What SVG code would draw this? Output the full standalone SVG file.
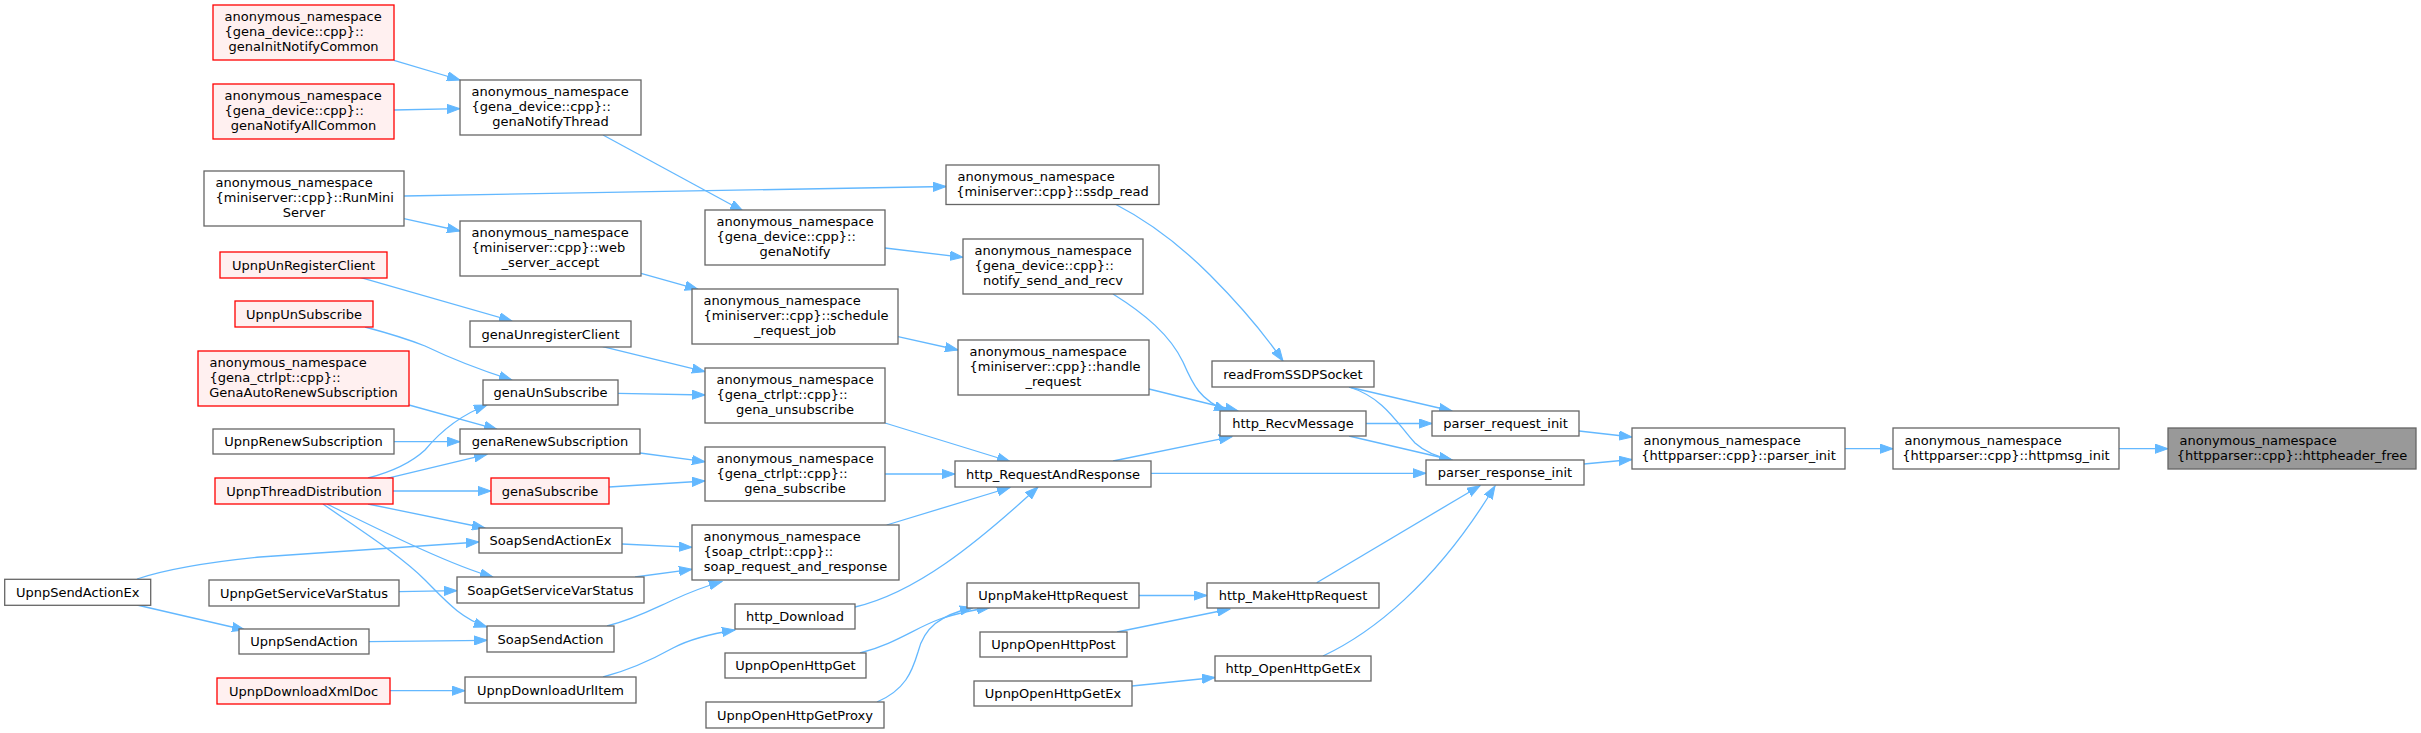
<svg xmlns="http://www.w3.org/2000/svg" width="2421" height="733" viewBox="0 0 2421 733">
<style>
rect{fill:#fff;stroke:#666;stroke-width:1.3}
.r rect{fill:#fff0f0;stroke:#f00}
.g rect{fill:#999}
text{font-family:"DejaVu Sans",sans-serif;font-size:13px;fill:#000}
.c{text-anchor:middle}
#edges path{fill:none;stroke:#63b8ff;stroke-width:1.3;marker-end:url(#ah)}
</style>
<defs>
<marker id="ah" markerUnits="userSpaceOnUse" viewBox="0 -5 14 10" markerWidth="14" markerHeight="10" refX="13" refY="0" orient="auto">
<path d="M0,-4.6 L13,0 L0,4.6 z" fill="#63b8ff" stroke="#63b8ff" stroke-width="1"/>
</marker>
</defs>
<rect x="0" y="0" width="2421" height="733" style="fill:#fff;stroke:none"/>
<g id="edges">
<path d="M2119,448.7 L2168,448.7"/>
<path d="M1845,448.7 L1893,448.7"/>
<path d="M1579,431 L1632,437"/>
<path d="M1584,464 L1632,459.5"/>
<path d="M1349,387 L1452,411"/>
<path d="M1349,387 C1385,398 1398,425 1415,443 C1425,452 1438,457 1452,460"/>
<path d="M1366,423.5 L1432,423.5"/>
<path d="M1349,436 L1452,460"/>
<path d="M1151,473.3 L1426,473.3"/>
<path d="M1113,461 L1232,436.7"/>
<path d="M1316.7,582.7 L1480,485.7"/>
<path d="M1323,656 C1370,634 1435,585 1495,486"/>
<path d="M1139,595.5 L1207,595.5"/>
<path d="M1117,632 L1230,609"/>
<path d="M1132,686 L1215,677.5"/>
<path d="M860,653 C895,644 915,628 940,619 C955,614 972,610 990,607.5"/>
<path d="M877,702 C905,690 912,672 918,652 C924,628 940,615 973,607.5"/>
<path d="M855,607 C915,593 975,545 1038,487"/>
<path d="M886.7,525 L1010,487.5"/>
<path d="M885,474 L955,474"/>
<path d="M885,423 L1010,461.5"/>
<path d="M1115,204 C1150,222 1180,245 1210,275 C1240,305 1265,335 1283,361"/>
<path d="M1113,294 C1145,314 1170,335 1183,362 C1193,385 1200,400 1227,411"/>
<path d="M1149,389 L1238,411"/>
<path d="M404,196 L946,186.5"/>
<path d="M404,218.7 L460,231"/>
<path d="M603,135 L743,211"/>
<path d="M394,60.3 L460,80"/>
<path d="M394,110 L460,108.7"/>
<path d="M885,248 L963,257.3"/>
<path d="M641,273.3 L698,289.3"/>
<path d="M898,336.7 L958,350"/>
<path d="M360,277.3 C400,289 450,303 512,321"/>
<path d="M602.7,346.7 L705,371.7"/>
<path d="M365,327 C395,335 410,340 425,346 C450,358 480,370 512,380"/>
<path d="M618,393.3 L705,395"/>
<path d="M409,405 L497,429.3"/>
<path d="M394,441.7 L460,441.7"/>
<path d="M368,478 C395,471 412,462 425,450 C440,432 458,416 487,405"/>
<path d="M387,478.3 L487,454.3"/>
<path d="M393,491 L491,491"/>
<path d="M368,504 L485,528"/>
<path d="M327,504 C380,530 450,565 493,577"/>
<path d="M323,504 C360,530 400,555 425,580 C445,600 460,618 487,627"/>
<path d="M640,453 L705,461.7"/>
<path d="M609,487 L705,481"/>
<path d="M622,544 L692,547.3"/>
<path d="M635,577 L692,569.3"/>
<path d="M607,626 C635,619 655,608 673,600 C688,593 703,587 722,581.5"/>
<path d="M603,677 C630,670 655,658 673,648 C690,639 710,634 735,630"/>
<path d="M137,579 C170,568 210,562 260,557 L479,542"/>
<path d="M137,605 L245,630"/>
<path d="M399,591.7 L457,590.7"/>
<path d="M369,641.7 L487,640.3"/>
<path d="M390,690.7 L465,690.7"/>
</g>
<g id="UpnpSendActionEx"><rect x="4.7" y="579.3" width="146" height="26"/><text class="c" x="77.7" y="596.8">UpnpSendActionEx</text></g>
<g id="genaInitNotifyCommon" class="r"><rect x="213" y="5" width="181" height="55"/><text x="224.5" y="21">anonymous_namespace</text><text x="224.5" y="36">{gena_device::cpp}::</text><text class="c" x="303.5" y="51">genaInitNotifyCommon</text></g>
<g id="genaNotifyAllCommon" class="r"><rect x="213" y="84" width="181" height="55"/><text x="224.5" y="100">anonymous_namespace</text><text x="224.5" y="115">{gena_device::cpp}::</text><text class="c" x="303.5" y="130">genaNotifyAllCommon</text></g>
<g id="RunMiniServer"><rect x="204" y="171" width="200" height="55"/><text x="215.5" y="187">anonymous_namespace</text><text x="215.5" y="202">{miniserver::cpp}::RunMini</text><text class="c" x="304" y="217">Server</text></g>
<g id="UpnpUnRegisterClient" class="r"><rect x="220" y="252" width="167" height="26"/><text class="c" x="303.5" y="269.5">UpnpUnRegisterClient</text></g>
<g id="UpnpUnSubscribe" class="r"><rect x="235" y="301" width="138" height="26"/><text class="c" x="304" y="318.5">UpnpUnSubscribe</text></g>
<g id="GenaAutoRenewSubscription" class="r"><rect x="198" y="351" width="211" height="55"/><text x="209.5" y="367">anonymous_namespace</text><text x="209.5" y="382">{gena_ctrlpt::cpp}::</text><text class="c" x="303.5" y="397">GenaAutoRenewSubscription</text></g>
<g id="UpnpRenewSubscription"><rect x="213" y="429" width="181" height="25"/><text class="c" x="303.5" y="446">UpnpRenewSubscription</text></g>
<g id="UpnpThreadDistribution" class="r"><rect x="215" y="478" width="178" height="26"/><text class="c" x="304" y="495.5">UpnpThreadDistribution</text></g>
<g id="UpnpGetServiceVarStatus"><rect x="209" y="580" width="190" height="26"/><text class="c" x="304" y="597.5">UpnpGetServiceVarStatus</text></g>
<g id="UpnpSendAction"><rect x="239" y="629" width="130" height="25"/><text class="c" x="304" y="646">UpnpSendAction</text></g>
<g id="UpnpDownloadXmlDoc" class="r"><rect x="217" y="678" width="173" height="26"/><text class="c" x="303.5" y="695.5">UpnpDownloadXmlDoc</text></g>
<g id="genaNotifyThread"><rect x="460" y="80" width="181" height="55"/><text x="471.5" y="96">anonymous_namespace</text><text x="471.5" y="111">{gena_device::cpp}::</text><text class="c" x="550.5" y="126">genaNotifyThread</text></g>
<g id="web_server_accept"><rect x="460" y="221" width="181" height="55"/><text x="471.5" y="237">anonymous_namespace</text><text x="471.5" y="252">{miniserver::cpp}::web</text><text class="c" x="550.5" y="267">_server_accept</text></g>
<g id="genaUnregisterClient"><rect x="470" y="321" width="161" height="26"/><text class="c" x="550.5" y="338.5">genaUnregisterClient</text></g>
<g id="genaUnSubscribe"><rect x="483" y="380" width="135" height="25"/><text class="c" x="550.5" y="397">genaUnSubscribe</text></g>
<g id="genaRenewSubscription"><rect x="460" y="429" width="180" height="25"/><text class="c" x="550" y="446">genaRenewSubscription</text></g>
<g id="genaSubscribe" class="r"><rect x="491" y="478" width="118" height="26"/><text class="c" x="550" y="495.5">genaSubscribe</text></g>
<g id="SoapSendActionEx"><rect x="479" y="528" width="143" height="25"/><text class="c" x="550.5" y="545">SoapSendActionEx</text></g>
<g id="SoapGetServiceVarStatus"><rect x="457" y="577" width="187" height="26"/><text class="c" x="550.5" y="594.5">SoapGetServiceVarStatus</text></g>
<g id="SoapSendAction"><rect x="487" y="626" width="127" height="26"/><text class="c" x="550.5" y="643.5">SoapSendAction</text></g>
<g id="UpnpDownloadUrlItem"><rect x="465" y="677" width="171" height="26"/><text class="c" x="550.5" y="694.5">UpnpDownloadUrlItem</text></g>
<g id="genaNotify"><rect x="705" y="210" width="180" height="55"/><text x="716.5" y="226">anonymous_namespace</text><text x="716.5" y="241">{gena_device::cpp}::</text><text class="c" x="795" y="256">genaNotify</text></g>
<g id="schedule_request_job"><rect x="692" y="289" width="206" height="55"/><text x="703.5" y="305">anonymous_namespace</text><text x="703.5" y="320">{miniserver::cpp}::schedule</text><text class="c" x="795" y="335">_request_job</text></g>
<g id="gena_unsubscribe"><rect x="705" y="368" width="180" height="55"/><text x="716.5" y="384">anonymous_namespace</text><text x="716.5" y="399">{gena_ctrlpt::cpp}::</text><text class="c" x="795" y="414">gena_unsubscribe</text></g>
<g id="gena_subscribe"><rect x="705" y="447" width="180" height="54"/><text x="716.5" y="462.5">anonymous_namespace</text><text x="716.5" y="477.5">{gena_ctrlpt::cpp}::</text><text class="c" x="795" y="492.5">gena_subscribe</text></g>
<g id="soap_request_and_response"><rect x="692" y="525" width="207" height="55"/><text x="703.5" y="541">anonymous_namespace</text><text x="703.5" y="556">{soap_ctrlpt::cpp}::</text><text class="c" x="795.5" y="571">soap_request_and_response</text></g>
<g id="http_Download"><rect x="735" y="604" width="120" height="25"/><text class="c" x="795" y="621">http_Download</text></g>
<g id="UpnpOpenHttpGet"><rect x="725" y="653" width="141" height="25"/><text class="c" x="795.5" y="670">UpnpOpenHttpGet</text></g>
<g id="UpnpOpenHttpGetProxy"><rect x="706" y="702" width="178" height="26"/><text class="c" x="795" y="719.5">UpnpOpenHttpGetProxy</text></g>
<g id="ssdp_read"><rect x="946" y="165" width="213" height="39.5"/><text x="957.5" y="181">anonymous_namespace</text><text class="c" x="1052.5" y="195.5">{miniserver::cpp}::ssdp_read</text></g>
<g id="notify_send_and_recv"><rect x="963" y="239" width="180" height="55"/><text x="974.5" y="255">anonymous_namespace</text><text x="974.5" y="270">{gena_device::cpp}::</text><text class="c" x="1053" y="285">notify_send_and_recv</text></g>
<g id="handle_request"><rect x="958" y="340" width="191" height="55"/><text x="969.5" y="356">anonymous_namespace</text><text x="969.5" y="371">{miniserver::cpp}::handle</text><text class="c" x="1053.5" y="386">_request</text></g>
<g id="http_RequestAndResponse"><rect x="955" y="461" width="196" height="26"/><text class="c" x="1053" y="478.5">http_RequestAndResponse</text></g>
<g id="UpnpMakeHttpRequest"><rect x="967" y="583" width="172" height="25"/><text class="c" x="1053" y="600">UpnpMakeHttpRequest</text></g>
<g id="UpnpOpenHttpPost"><rect x="980" y="632" width="147" height="25"/><text class="c" x="1053.5" y="649">UpnpOpenHttpPost</text></g>
<g id="UpnpOpenHttpGetEx"><rect x="974" y="681" width="158" height="25"/><text class="c" x="1053" y="698">UpnpOpenHttpGetEx</text></g>
<g id="readFromSSDPSocket"><rect x="1212" y="361" width="162" height="26"/><text class="c" x="1293" y="378.5">readFromSSDPSocket</text></g>
<g id="http_RecvMessage"><rect x="1220" y="411" width="146" height="25"/><text class="c" x="1293" y="428">http_RecvMessage</text></g>
<g id="http_MakeHttpRequest"><rect x="1207" y="583" width="172" height="25"/><text class="c" x="1293" y="600">http_MakeHttpRequest</text></g>
<g id="http_OpenHttpGetEx"><rect x="1215" y="656" width="156" height="25"/><text class="c" x="1293" y="673">http_OpenHttpGetEx</text></g>
<g id="parser_request_init"><rect x="1432" y="411" width="147" height="25"/><text class="c" x="1505.5" y="428">parser_request_init</text></g>
<g id="parser_response_init"><rect x="1426" y="460" width="158" height="25"/><text class="c" x="1505" y="477">parser_response_init</text></g>
<g id="parser_init"><rect x="1632" y="428" width="213" height="41"/><text x="1643.5" y="445">anonymous_namespace</text><text class="c" x="1738.5" y="459.5">{httpparser::cpp}::parser_init</text></g>
<g id="httpmsg_init"><rect x="1893" y="428" width="226" height="41"/><text x="1904.5" y="445">anonymous_namespace</text><text class="c" x="2006" y="459.5">{httpparser::cpp}::httpmsg_init</text></g>
<g id="httpheader_free" class="g"><rect x="2168" y="428" width="248" height="41"/><text x="2179.5" y="445">anonymous_namespace</text><text class="c" x="2292" y="459.5">{httpparser::cpp}::httpheader_free</text></g>
</svg>
